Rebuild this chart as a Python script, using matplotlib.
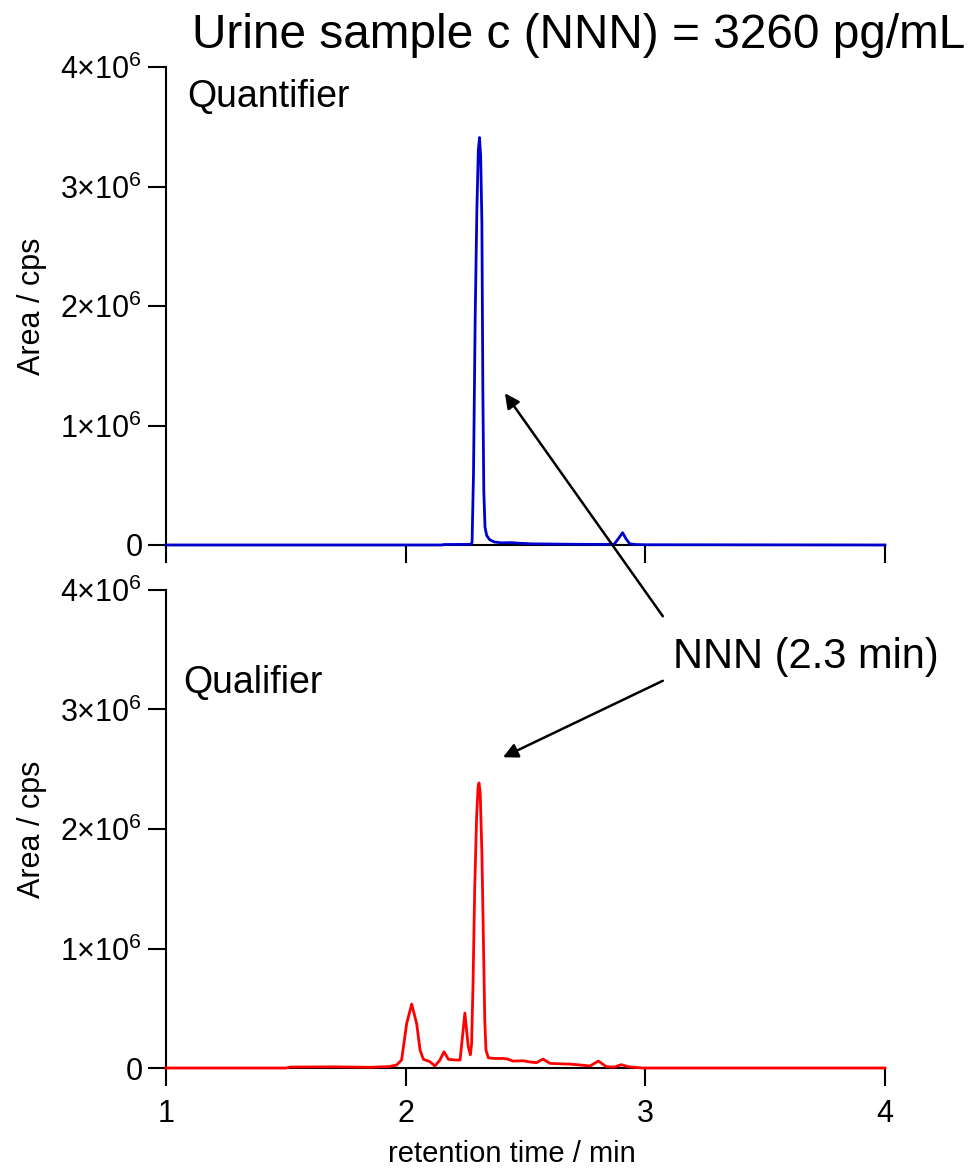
import numpy as np
import matplotlib
matplotlib.use("Agg")
import matplotlib.pyplot as plt

plt.rcParams['font.family'] = ['Liberation Sans', 'DejaVu Sans']
plt.rcParams['mathtext.fontset'] = 'custom'
plt.rcParams['mathtext.rm'] = 'Liberation Sans'
plt.rcParams['mathtext.it'] = 'Liberation Sans'
plt.rcParams['mathtext.default'] = 'regular'

# quantifier trace (blue)
quant_t = [1.0, 2.15, 2.16, 2.270, 2.277, 2.283, 2.290, 2.297, 2.303, 2.308, 2.313,
           2.318, 2.322, 2.326, 2.331, 2.338, 2.35, 2.37, 2.40, 2.44, 2.47, 2.52,
           2.60, 2.70, 2.80, 2.87, 2.89, 2.905, 2.92, 2.935, 2.96, 3.0, 4.0]
quant_y = [0, 0, 4e3, 5e3, 2e4, 6e5, 1.9e6, 2.8e6, 3.3e6, 3.41e6, 3.25e6,
           2.7e6, 1.3e6, 4.5e5, 1.5e5, 8e4, 4.5e4, 2.5e4, 1.8e4, 2e4, 1.5e4, 1e4,
           8e3, 6e3, 5e3, 6e3, 6e4, 1.03e5, 5e4, 1e4, 4e3, 2e3, 0]

# qualifier trace (red)
qual_t = [1.0, 1.50, 1.52, 1.70, 1.85, 1.93, 1.962, 1.983, 2.004, 2.025, 2.046,
          2.06, 2.074, 2.101, 2.122, 2.143, 2.16, 2.178, 2.206, 2.227, 2.247,
          2.261, 2.270, 2.275, 2.281, 2.288, 2.296, 2.302, 2.306, 2.311, 2.318,
          2.325, 2.330, 2.335, 2.345, 2.37, 2.407, 2.425, 2.448, 2.49, 2.52,
          2.546, 2.573, 2.602, 2.65, 2.685, 2.73, 2.769, 2.804, 2.838, 2.87,
          2.90, 2.93, 2.99, 4.0]
qual_y = [0, 0, 8e3, 1e4, 6e3, 1.2e4, 2.5e4, 6.7e4, 3.7e5, 5.35e5, 3.7e5,
          1.5e5, 7.3e4, 5.3e4, 1.7e4, 6.7e4, 1.36e5, 7.3e4, 6.7e4, 6.7e4, 4.6e5,
          1.8e5, 1.1e5, 2e5, 7e5, 1.5e6, 2.1e6, 2.35e6, 2.385e6, 2.3e6, 1.8e6,
          1.0e6, 4e5, 1.5e5, 8.5e4, 8e4, 8e4, 7.5e4, 5.8e4, 6.1e4, 5e4,
          4.5e4, 7.5e4, 3.9e4, 3.5e4, 3.3e4, 2.5e4, 1.7e4, 5.8e4, 1.1e4, 8e3,
          2.8e4, 1e4, 0, 0]

y_ticks = [0, 1e6, 2e6, 3e6, 4e6]
y_labels = ['0', '1×10$^{6}$', '2×10$^{6}$', '3×10$^{6}$', '4×10$^{6}$']
x_ticks = [1, 2, 3, 4]

fig = plt.figure(figsize=(9.71, 11.68), dpi=100)
ax1 = fig.add_axes([0.171, 0.5334, 0.7404, 0.4092])
ax2 = fig.add_axes([0.171, 0.0856, 0.7404, 0.4093])

for ax in (ax1, ax2):
    ax.set_xlim(1, 4)
    ax.set_ylim(0, 4e6)
    ax.spines['top'].set_visible(False)
    ax.spines['right'].set_visible(False)
    ax.spines['left'].set_linewidth(1.5)
    ax.spines['bottom'].set_linewidth(1.5)
    ax.set_yticks(y_ticks)
    ax.set_yticklabels(y_labels)
    ax.set_xticks(x_ticks)
    ax.tick_params(direction='out', length=13, width=1.5, labelsize=22)
    ax.tick_params(axis='y', pad=4)
    ax.tick_params(axis='x', pad=9)
    ax.set_ylabel('Area / cps', fontsize=22)
    ax.yaxis.set_label_coords(-0.165, 0.5)

ax1.tick_params(axis='x', labelbottom=False)

ax1.plot(quant_t, quant_y, color='#0000cc', lw=2, zorder=3, clip_on=False)
ax2.plot(qual_t, qual_y, color='#ff0000', lw=2, zorder=3, clip_on=False)

ax1.text(1.088, 3.665e6, 'Quantifier', fontsize=27, ha='left', va='baseline')
ax2.text(1.071, 3.14e6, 'Qualifier', fontsize=27, ha='left', va='baseline')

ax2.set_xlabel('retention time / min', fontsize=21)
ax2.xaxis.set_label_coords(0.481, -0.15)

fig.text(0.1977, 0.9589, 'Urine sample c (NNN) = 3260 pg/mL', fontsize=34.4,
         ha='left', va='baseline')

# annotation pointing to both peaks
ax2.text(3.115, 3.35e6, 'NNN (2.3 min)', fontsize=30, ha='left', va='baseline')
arrow = dict(arrowstyle='-|>', color='k', lw=1.8, mutation_scale=22,
             shrinkA=0, shrinkB=0)
ax2.annotate('', xy=(2.414, 1.27e6), xycoords=ax1.transData,
             xytext=(3.073, 3.78e6), textcoords=ax2.transData,
             arrowprops=arrow, annotation_clip=False)
ax2.annotate('', xy=(2.406, 2.60e6), xycoords=ax2.transData,
             xytext=(3.073, 3.24e6), textcoords=ax2.transData,
             arrowprops=arrow, annotation_clip=False)

fig.savefig('out.png', dpi=100)
